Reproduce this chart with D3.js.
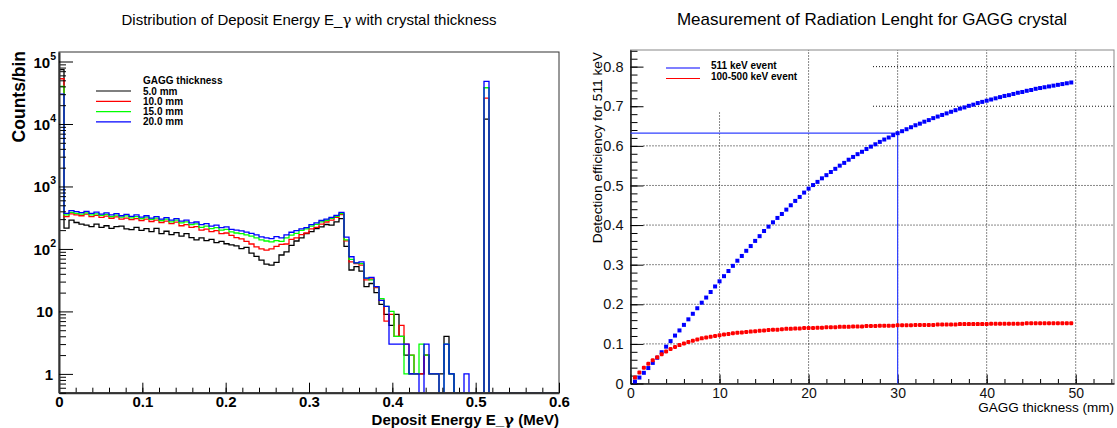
<!DOCTYPE html>
<html>
<head>
<meta charset="utf-8">
<script src="https://cdn.jsdelivr.net/npm/d3@7"></script>
<style>
  body { margin: 0; background: #fff; }
  svg { font-family: "Liberation Sans", Arial, Helvetica, sans-serif; }
  .greek { font-family: "DejaVu Serif", serif; }
</style>
</head>
<body>
<svg width="1117" height="428"></svg>
<script>
// ---------- data: left panel (deposit energy histograms, 100 bins of 0.006 MeV) ----------
const binLow = 0, binWidth = 0.006;
const thicknessNames = ["5.0 mm", "10.0 mm", "15.0 mm", "20.0 mm"];
const histColors = ["#000000", "#ff0000", "#00ff00", "#0000ff"];

const counts5mm = [74000, 215, 290, 265, 250, 240, 228, 250, 222, 235,
  214, 228, 232, 210, 204, 222, 198, 212, 190, 214,
  176, 192, 170, 182, 160, 176, 152, 140, 150, 136,
  142, 126, 132, 121, 116, 112, 101, 106, 86, 76,
  66, 57, 55, 61, 80, 90, 114, 134, 150, 176,
  190, 212, 226, 246, 240, 272, 305, 110, 46, 52,
  44, 25, 28, 20, 13, 9, 6, 9, 4, 2,
  1, 1, 1, 2, 1, 1, 1, 4, 1, 0,
  0, 0, 0, 0, 0, 12000, 0, 0, 0, 0,
  0, 0, 0, 0, 0, 0, 0, 0, 0, 0];
const counts10mm = [53000, 330, 365, 350, 340, 360, 330, 345, 320, 335,
  310, 325, 300, 312, 295, 305, 285, 300, 275, 290,
  265, 278, 255, 268, 235, 245, 222, 228, 200, 208,
  190, 196, 176, 180, 165, 152, 145, 132, 120, 108,
  100, 96, 100, 110, 118, 120, 142, 150, 170, 180,
  210, 222, 250, 270, 290, 320, 355, 135, 62, 58,
  55, 32, 33, 24, 15, 7, 9, 4, 6, 3,
  2, 1, 1, 2, 1, 1, 0, 0, 0, 0,
  0, 0, 0, 0, 0, 26000, 0, 0, 0, 0,
  0, 0, 0, 0, 0, 0, 0, 0, 0, 0];
const counts15mm = [40000, 350, 385, 372, 360, 378, 350, 365, 345, 358,
  330, 348, 322, 338, 315, 330, 305, 322, 298, 312,
  285, 300, 272, 290, 262, 272, 245, 252, 222, 232,
  212, 220, 200, 206, 188, 180, 176, 168, 160, 150,
  140, 134, 130, 136, 132, 150, 166, 178, 198, 210,
  232, 248, 272, 288, 308, 332, 368, 140, 68, 60,
  58, 34, 32, 25, 16, 12, 10, 4, 4, 1,
  2, 1, 3, 2, 1, 1, 0, 3, 1, 0,
  0, 0, 0, 0, 0, 38000, 0, 0, 0, 0,
  0, 0, 0, 0, 0, 0, 0, 0, 0, 0];
const counts20mm = [30000, 370, 410, 395, 380, 400, 370, 388, 362, 378,
  350, 368, 340, 358, 332, 350, 322, 340, 312, 330,
  300, 318, 290, 305, 278, 290, 262, 270, 245, 255,
  232, 240, 220, 226, 205, 200, 195, 186, 178, 168,
  156, 150, 146, 158, 150, 168, 185, 196, 210, 220,
  245, 262, 285, 300, 320, 345, 385, 155, 75, 60,
  62, 34, 35, 25, 15, 12, 3, 3, 3, 3,
  1, 1, 0, 3, 1, 1, 0, 3, 1, 0,
  0, 1, 0, 0, 0, 48000, 0, 0, 0, 0,
  0, 0, 0, 0, 0, 0, 0, 0, 0, 0];
const histSeries = [counts5mm, counts10mm, counts15mm, counts20mm];

const energyTicks = [0, 0.1, 0.2, 0.3, 0.4, 0.5, 0.6];
const countDecades = [1, 10, 100, 1000, 10000, 100000];

// ---------- data: right panel (efficiency vs thickness) ----------
const thicknessMm = [0.5, 1, 1.5, 2, 2.5, 3, 3.5, 4, 4.5, 5, 5.5, 6, 6.5, 7, 7.5, 8, 8.5, 9, 9.5, 10,
  10.5, 11, 11.5, 12, 12.5, 13, 13.5, 14, 14.5, 15, 15.5, 16, 16.5, 17, 17.5, 18, 18.5, 19, 19.5, 20,
  20.5, 21, 21.5, 22, 22.5, 23, 23.5, 24, 24.5, 25, 25.5, 26, 26.5, 27, 27.5, 28, 28.5, 29, 29.5, 30,
  30.5, 31, 31.5, 32, 32.5, 33, 33.5, 34, 34.5, 35, 35.5, 36, 36.5, 37, 37.5, 38, 38.5, 39, 39.5, 40,
  40.5, 41, 41.5, 42, 42.5, 43, 43.5, 44, 44.5, 45, 45.5, 46, 46.5, 47, 47.5, 48, 48.5, 49, 49.5];
const eff511 = [.005, .015, .027, .039, .052, .065, .079, .093, .107, .121, .134, .148, .162, .176, .190, .204, .217, .231, .245, .258,
  .271, .284, .297, .310, .322, .335, .347, .360, .372, .385, .396, .407, .418, .428, .439, .450, .461, .471, .482, .492,
  .501, .509, .518, .526, .534, .542, .550, .557, .565, .572, .579, .585, .592, .598, .604, .610, .616, .621, .627, .632,
  .637, .642, .647, .652, .656, .661, .665, .670, .674, .678, .682, .686, .690, .694, .697, .701, .704, .708, .711, .714,
  .717, .720, .723, .726, .728, .731, .734, .736, .739, .741, .744, .746, .748, .750, .752, .754, .756, .758, .760];
const eff100to500 = [.015, .028, .040, .050, .059, .066, .074, .081, .087, .092, .097, .101, .105, .108, .111, .114, .116, .118, .120, .122,
  .124, .125, .127, .128, .129, .130, .131, .132, .133, .134, .135, .136, .136, .137, .138, .138, .139, .139, .140, .140,
  .140, .141, .141, .142, .142, .142, .143, .143, .143, .144, .144, .144, .145, .145, .145, .146, .146, .146, .146, .147,
  .147, .147, .147, .148, .148, .148, .148, .148, .149, .149, .149, .149, .149, .150, .150, .150, .150, .150, .150, .150,
  .151, .151, .151, .151, .151, .151, .151, .151, .152, .152, .152, .152, .152, .152, .152, .152, .152, .152, .152];
const markThickness = 30, markEff = 0.632;
const effLegend = ["511 keV event", "100-500 keV event"];

const svg = d3.select("svg");

// small helper: text with a gamma in a serif face
function withGamma(sel, before, after) {
  sel.append("tspan").text(before);
  sel.append("tspan").attr("class", "greek").text("\u03b3");
  sel.append("tspan").text(after);
}

// ================= left panel =================
const xH = d3.scaleLinear().domain([0, 0.6]).range([59, 559]);
const yH = d3.scaleLog().domain([0.5, 1.42e5]).range([392.7, 52]);
const yBottom = yH.range()[0];

svg.append("text").attr("x", 309).attr("y", 25).attr("text-anchor", "middle")
  .style("font-size", "15px")
  .call(withGamma, "Distribution of Deposit Energy E_", " with crystal thickness");

const gH = svg.append("g");
gH.append("clipPath").attr("id", "clipH").append("rect")
  .attr("x", 59).attr("y", 52).attr("width", 500).attr("height", yBottom - 52);

function histPath(counts) {
  let p = "M" + xH(binLow) + "," + yBottom;
  counts.forEach((c, i) => {
    const y = c > 0 ? yH(c) : yBottom;
    p += "V" + y + "H" + xH(binLow + (i + 1) * binWidth);
  });
  return p + "V" + yBottom;
}

gH.selectAll("path.hist").data(histSeries).enter().append("path")
  .attr("class", "hist")
  .attr("clip-path", "url(#clipH)")
  .attr("d", histPath)
  .attr("fill", "none")
  .attr("stroke", (d, i) => histColors[i])
  .attr("stroke-width", 1.3);

// frame
gH.append("rect").attr("x", 59).attr("y", 52).attr("width", 500).attr("height", yBottom - 52)
  .attr("fill", "none").attr("stroke", "#333").attr("stroke-width", 1);

// x axis (ticks inside)
const minorE = d3.range(0, 0.6001, 0.02);
gH.append("g").attr("transform", `translate(0,${yBottom})`)
  .call(d3.axisBottom(xH).tickValues(minorE).tickSize(-5).tickFormat(""))
  .call(g => g.select(".domain").remove());
gH.append("g").attr("transform", `translate(0,${yBottom})`)
  .call(d3.axisBottom(xH).tickValues(energyTicks).tickSize(-10).tickSizeOuter(0).tickPadding(4)
    .tickFormat(d => d === 0 ? "0" : d3.format(".1f")(d)))
  .call(g => g.select(".domain").attr("stroke-width", 2).attr("stroke", "#333"))
  .call(g => g.selectAll("text").style("font-size", "15px").style("font-weight", "bold").attr("fill", "#000"));

// y axis log
const minorC = [];
[0.1, 1, 10, 100, 1000, 10000].forEach(d => { for (let k = 2; k <= 9; k++) minorC.push(d * k); });
gH.append("g").attr("transform", "translate(59,0)")
  .call(d3.axisLeft(yH).tickValues(minorC.filter(v => v >= 0.5 && v <= 1.42e5)).tickSize(-7).tickFormat(""))
  .call(g => g.select(".domain").remove());
gH.append("g").attr("transform", "translate(59,0)")
  .call(d3.axisLeft(yH).tickValues(countDecades).tickSize(-14).tickSizeOuter(0).tickPadding(6).tickFormat(""))
  .call(g => g.select(".domain").attr("stroke-width", 2).attr("stroke", "#333"));

gH.selectAll("text.ylab").data(countDecades).enter().append("text")
  .attr("class", "ylab")
  .attr("x", d => d < 100 ? 53 : 56)
  .attr("y", d => yH(d) + 6)
  .attr("text-anchor", "end")
  .style("font-size", "15px").style("font-weight", "bold")
  .each(function (d) {
    const t = d3.select(this);
    const e = Math.round(Math.log10(d));
    if (e < 2) { t.text(String(d)); return; }
    t.append("tspan").text("10");
    t.append("tspan").attr("dy", -8).style("font-size", "10.5px").text(String(e));
  });

svg.append("text").attr("transform", "translate(25,51) rotate(-90)")
  .attr("text-anchor", "end").style("font-size", "17.5px").style("font-weight", "bold")
  .text("Counts/bin");
svg.append("text").attr("x", 559).attr("y", 425).attr("text-anchor", "end")
  .style("font-size", "15px").style("font-weight", "bold")
  .call(withGamma, "Deposit Energy E_", " (MeV)");

// legend
const legH = svg.append("g").style("font-size", "10px").style("font-weight", "bold");
legH.append("text").attr("x", 143).attr("y", 84).text("GAGG thickness");
thicknessNames.forEach((name, i) => {
  const yy = 91 + i * 10.3;
  legH.append("line").attr("x1", 96).attr("x2", 131).attr("y1", yy).attr("y2", yy)
    .attr("stroke", histColors[i]).attr("stroke-width", 1.2);
  legH.append("text").attr("x", 143).attr("y", yy + 3.5).text(name);
});

// ================= right panel =================
const xR = d3.scaleLinear().domain([0, 54.3]).range([630.5, 1114]);
const yR = d3.scaleLinear().domain([0, 0.842]).range([383.5, 50]);
const gR = svg.append("g");

svg.append("text").attr("x", 872).attr("y", 25).attr("text-anchor", "middle")
  .style("font-size", "17px").text("Measurement of Radiation Lenght for GAGG crystal");

// grid (dotted), partially hidden behind legend area like in the original
const gridStyle = g => g.attr("stroke", "#111").attr("stroke-width", 1).attr("stroke-dasharray", "1,2");
[10, 20, 30, 40, 50].forEach(v => {
  gR.append("line").attr("x1", xR(v)).attr("x2", xR(v))
    .attr("y1", yR(0)).attr("y2", v === 10 ? 112 : yR.range()[1]).call(gridStyle);
});
[0.1, 0.2, 0.3, 0.4, 0.5, 0.6, 0.7, 0.8].forEach(v => {
  gR.append("line").attr("x1", v >= 0.7 ? 873 : xR(0) + 13).attr("x2", xR.range()[1])
    .attr("y1", yR(v)).attr("y2", yR(v)).call(gridStyle);
});

// frame
gR.append("rect").attr("x", xR(0)).attr("y", yR.range()[1]).attr("width", xR.range()[1] - xR(0))
  .attr("height", yR(0) - yR.range()[1]).attr("fill", "none").attr("stroke", "#888").attr("stroke-width", 1);

// axes
gR.append("g").attr("transform", `translate(0,${yR(0)})`)
  .call(d3.axisBottom(xR).tickValues(d3.range(0, 54.3, 2)).tickSize(-4.5).tickFormat(""))
  .call(g => g.select(".domain").remove());
gR.append("g").attr("transform", `translate(0,${yR(0)})`)
  .call(d3.axisBottom(xR).tickValues([0, 10, 20, 30, 40, 50]).tickSize(-9).tickSizeOuter(0).tickPadding(5))
  .call(g => g.select(".domain").attr("stroke-width", 1.6).attr("stroke", "#222"))
  .call(g => g.selectAll("text").style("font-size", "14px").attr("fill", "#111"));
gR.append("g").attr("transform", `translate(${xR(0)},0)`)
  .call(d3.axisLeft(yR).tickValues(d3.range(0, 0.841, 0.02)).tickSize(-7).tickFormat(""))
  .call(g => g.select(".domain").remove());
gR.append("g").attr("transform", `translate(${xR(0)},0)`)
  .call(d3.axisLeft(yR).tickValues([0, 0.1, 0.2, 0.3, 0.4, 0.5, 0.6, 0.7, 0.8]).tickSize(-13).tickSizeOuter(0).tickPadding(7)
    .tickFormat(d => d === 0 ? "0" : d3.format(".1f")(d)))
  .call(g => g.select(".domain").attr("stroke-width", 1.6).attr("stroke", "#222"))
  .call(g => g.selectAll("text").style("font-size", "14.5px").attr("fill", "#111"));

// 1/e marker lines
gR.append("line").attr("x1", xR(0)).attr("x2", xR(markThickness)).attr("y1", yR(markEff)).attr("y2", yR(markEff))
  .attr("stroke", "#3040ff").attr("stroke-width", 1.2);
gR.append("line").attr("x1", xR(markThickness)).attr("x2", xR(markThickness)).attr("y1", yR(0)).attr("y2", yR(markEff))
  .attr("stroke", "#3040ff").attr("stroke-width", 1.2);

// points
gR.selectAll("rect.p511").data(thicknessMm).enter().append("rect").attr("class", "p511")
  .attr("x", (d) => xR(d) - 2).attr("y", (d, i) => yR(eff511[i]) - 2)
  .attr("width", 4).attr("height", 4).attr("fill", "#0000ff");
gR.selectAll("rect.p100").data(thicknessMm).enter().append("rect").attr("class", "p100")
  .attr("x", (d) => xR(d) - 2).attr("y", (d, i) => yR(eff100to500[i]) - 2)
  .attr("width", 4).attr("height", 4).attr("rx", 1.2).attr("fill", "#ff0000");

svg.append("text").attr("transform", "translate(602,52) rotate(-90)")
  .attr("text-anchor", "end").style("font-size", "13.7px")
  .text("Detection efficiency for 511 keV");
svg.append("text").attr("x", 1114).attr("y", 412).attr("text-anchor", "end")
  .style("font-size", "13.5px").text("GAGG thickness (mm)");

// legend
const legR = svg.append("g").style("font-size", "10px").style("font-weight", "bold");
["#0000ff", "#ff0000"].forEach((c, i) => {
  const yy = 68 + i * 10.5;
  legR.append("line").attr("x1", 666).attr("x2", 700).attr("y1", yy).attr("y2", yy)
    .attr("stroke", c).attr("stroke-width", 1.2);
  legR.append("text").attr("x", 711).attr("y", yy + 1).text(effLegend[i]);
});
</script>
</body>
</html>
